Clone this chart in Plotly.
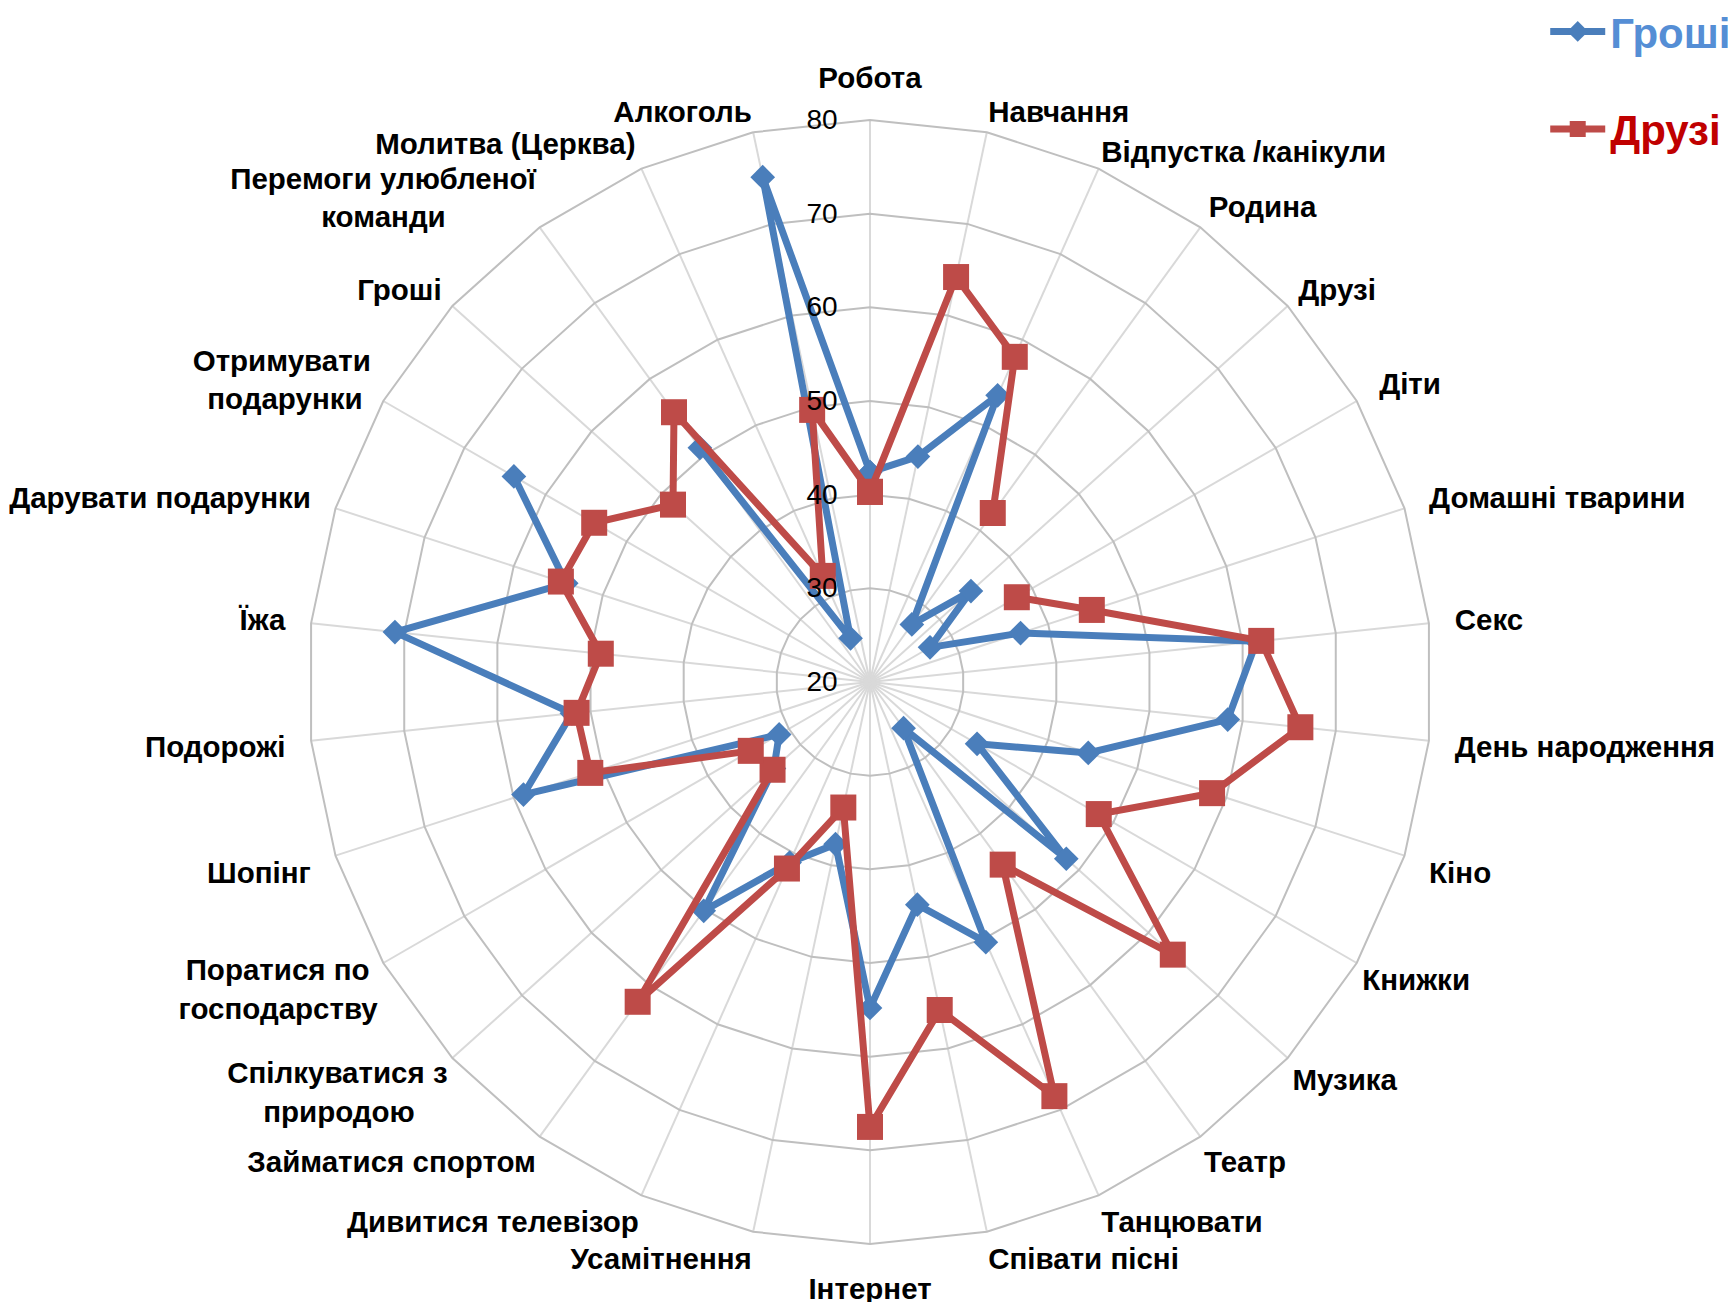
import plotly.graph_objects as go

categories = ["Робота", "Навчання", "Відпустка /канікули", "Родина", "Друзі", "Діти",
              "Домашні тварини", "Секс", "День народження", "Кіно", "Книжки", "Музика",
              "Театр", "Танцювати", "Співати пісні", "Інтернет", "Усамітнення",
              "Дивитися телевізор", "Займатися спортом", "Спілкуватися з природою",
              "Поратися по господарству", "Шопінг", "Подорожі", "Їжа",
              "Дарувати подарунки", "Отримувати подарунки", "Гроші",
              "Перемоги улюбленої команди", "Молитва (Церква)", "Алкоголь"]

NB = "\u00a0"
tick_labels = ["Робота", "Навчання", "Відпустка /канікули", "Родина", "Друзі", "Діти",
               "Домашні тварини", "Секс", "День народження", "Кіно", "Книжки", "Музика",
               "Театр", "Танцювати", "Співати пісні", "Інтернет", "Усамітнення",
               "Дивитися телевізор", "Займатися спортом",
               "Спілкуватися з<br>природою" + NB * 4,
               "Поратися по" + NB + "<br>господарству", "Шопінг", "Подорожі", "Їжа",
               "Дарувати подарунки", "Отримувати<br>подарунки" + NB, "Гроші",
               "Перемоги улюбленої<br>команди" + NB * 11, "Молитва (Церква)", "Алкоголь"]

money = [42.4, 44.6, 53.5, 27.6, 34.5, 27.4, 36.9, 61.5, 58.4, 44.5, 33.2, 48.2,
         26.1, 50.4, 44.3, 54.8, 37.7, 41.1, 50.2, 33.8, 31.2, 58.9, 52.0, 71.0,
         54.1, 63.9, None, 50.9, 25.1, 75.1]

friends = [40.3, 64.2, 58.0, 42.3, None, 38.1, 44.9, 62.0, 66.2, 58.4, 48.2, 63.5,
           44.1, 68.4, 55.8, 67.5, 33.7, 41.8, 62.2, 34.0, 34.7, 51.4, 51.5, 48.9,
           54.7, 54.0, 48.3, 55.6, 32.4, 49.7]

radial_ticks = [20, 30, 40, 50, 60, 70, 80]

# category labels that sit close to the outer ring / at a medium distance
near_labels = ["Навчання", "Відпустка /канікули", "Книжки", "Музика", "Театр", "Танцювати",
               "Співати пісні", "Усамітнення", "Дивитися телевізор", "Займатися спортом",
               "Спілкуватися з природою", "Поратися по господарству",
               "Перемоги улюбленої команди", "Алкоголь"]
mid_labels = ["Родина", "Друзі", "Гроші", "Отримувати подарунки", "Молитва (Церква)"]

BLUE = "#4A7EBB"
RED = "#BE4B48"


def texts_for(keep):
    return [(t if keep(c) else "") for c, t in zip(categories, tick_labels)]


far_text = texts_for(lambda c: c not in near_labels and c not in mid_labels)
mid_text = texts_for(lambda c: c in mid_labels)
near_text = texts_for(lambda c: c in near_labels)

theta_closed = categories + categories[:1]

fig = go.Figure()
fig.add_trace(go.Scatterpolar(
    r=money + money[:1], theta=theta_closed, mode="lines+markers",
    name="<span style='color:#558ED5'><b>Гроші</b></span>",
    line=dict(color=BLUE, width=7),
    marker=dict(symbol="diamond", size=19, color=BLUE),
    connectgaps=False, legendgroup="a",
))
fig.add_trace(go.Scatterpolar(
    r=friends + friends[:1], theta=theta_closed, mode="lines+markers",
    name="<span style='color:#C00000'><b>Друзі</b></span>",
    line=dict(color=RED, width=7),
    marker=dict(symbol="square", size=26, color=RED),
    connectgaps=False, legendgroup="b",
))
# helper (invisible) traces so the label-only overlay axes have their categories
for sp in ("polar2", "polar3"):
    fig.add_trace(go.Scatterpolar(
        r=[None] * len(categories), theta=categories, mode="lines", subplot=sp,
        showlegend=False, hoverinfo="skip",
    ))

W, H = 1736, 1302
cx, cy, R = 862, 674, 562
domain = dict(x=[(cx - R) / W, (cx + R) / W], y=[(H - cy - R) / H, (H - cy + R) / H])
tick_font = dict(size=29.5, color="black", weight="bold")


def label_polar(ticktext, ticklen):
    return dict(
        domain=domain,
        bgcolor="rgba(0,0,0,0)",
        gridshape="linear",
        radialaxis=dict(range=[20, 80], visible=False, showgrid=False),
        angularaxis=dict(
            rotation=90, direction="clockwise", type="category",
            categoryarray=categories, tickmode="array", tickvals=categories,
            ticktext=ticktext, showline=False, showgrid=False,
            ticks="outside", ticklen=ticklen, tickcolor="rgba(0,0,0,0)",
            tickfont=tick_font,
        ),
    )


fig.update_layout(
    width=W, height=H,
    paper_bgcolor="white", plot_bgcolor="white",
    margin=dict(l=0, r=0, t=0, b=0, autoexpand=False),
    font=dict(family="Liberation Sans, Arial, sans-serif", color="black"),
    polar=dict(
        domain=domain,
        bgcolor="white",
        gridshape="linear",
        radialaxis=dict(
            range=[20, 80], tickvals=radial_ticks, ticktext=[str(v) for v in radial_ticks],
            angle=90, tickangle=90, side="counterclockwise", showline=False,
            ticks="outside", ticklen=22, tickcolor="rgba(0,0,0,0)",
            gridcolor="#BFBFBF", gridwidth=2,
            tickfont=dict(size=28, color="black"),
        ),
        angularaxis=dict(
            rotation=90, direction="clockwise", type="category",
            categoryarray=categories, tickmode="array", tickvals=categories,
            ticktext=far_text,
            showline=True, linecolor="#BFBFBF", linewidth=2,
            gridcolor="#D9D9D9", gridwidth=2,
            ticks="outside", ticklen=19, tickcolor="rgba(0,0,0,0)",
            tickfont=tick_font,
        ),
    ),
    polar2=label_polar(near_text, 0),
    polar3=label_polar(mid_text, 8),
    legend=dict(
        x=0.8855, y=1.008, xanchor="left", yanchor="top",
        font=dict(size=42, family="Liberation Sans, Arial, sans-serif"),
        tracegroupgap=40, itemwidth=55, bgcolor="rgba(0,0,0,0)",
    ),
)

fig.write_html("out.html")
